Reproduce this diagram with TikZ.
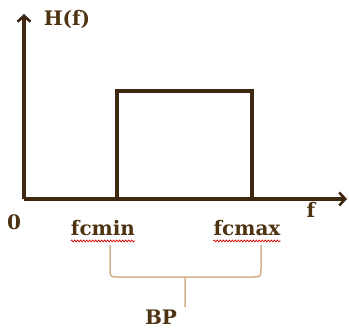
\documentclass[tikz,border=0pt]{standalone}
\usepackage{fontspec}
\setmainfont{DejaVu Serif}
\usetikzlibrary{arrows.meta,decorations.pathmorphing}
\definecolor{brun}{HTML}{3F2812}
\definecolor{brunlbl}{HTML}{4E3312}
\definecolor{accolade}{HTML}{D2B088}
\tikzset{
  axe/.style={brun, line width=3.2pt, -{Straight Barb[length=6pt,width=13pt,line width=2.6pt]}},
  lbl/.style={text=brunlbl, font=\fontsize{20}{22}\selectfont\bfseries, inner sep=0pt},
  souligne/.style={red!85!black, line width=0.7pt, decorate, decoration={snake, amplitude=0.9pt, segment length=3pt}}
}
\begin{document}
\begin{tikzpicture}[x=1pt, y=-1pt]
    \useasboundingbox (0,0) rectangle (349,332);
    % Axes
    \coordinate (O) at (24,199);
    \draw[axe] (O) -- (24,14);
    \draw[axe] (O) -- (347,199);
    % Gabarit passe-bande
    \draw[brun, line width=3.2pt, line join=miter] (117,199) -- (117,91) -- (252,91) -- (252,199);
    % Etiquettes
    \node[lbl] (H) at (67,19) {H(f)};
    \node[lbl] (zero) at (14,222) {0};
    \node[lbl] (f) at (311,210) {f};
    \node[lbl] (fmin) at (103,228) {fcmin};
    \node[lbl] (fmax) at (247,228) {fcmax};
    \node[lbl] (BP) at (161,317) {BP};
    % Soulignements
    \draw[souligne] ([yshift=-5pt]fmin.south west) -- ([yshift=-5pt]fmin.south east);
    \draw[souligne] ([yshift=-5pt]fmax.south west) -- ([yshift=-5pt]fmax.south east);
    % Accolade
    \coordinate (a) at (110,245);
    \coordinate (b) at (261,245);
    \coordinate (m) at (185,277);
    \draw[accolade, line width=1.5pt] (a) -- (110,268) .. controls (110,277) .. (119,277)
        -- (176,277) .. controls (185,277) .. (m) -- (185,307);
    \draw[accolade, line width=1.5pt] (b) -- (261,268) .. controls (261,277) .. (252,277)
        -- (194,277) .. controls (185,277) .. (m);
\end{tikzpicture}
\end{document}
